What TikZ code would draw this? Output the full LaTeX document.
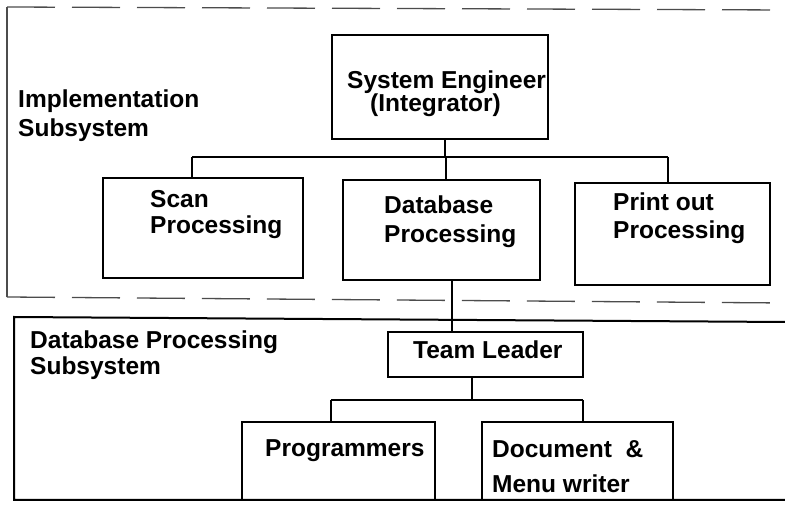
\documentclass[tikz,border=0pt]{standalone}
\usepackage{fontspec}
\setmainfont{Liberation Sans}
\begin{document}
\begin{tikzpicture}[x=1pt,y=-1pt,
  box/.style={draw=black,line width=2.4pt,inner sep=0pt},
  link/.style={draw=black,line width=1.3pt},
  lbl/.style={anchor=base west,inner sep=0pt,font=\fontsize{24.5}{29}\selectfont\bfseries},
  dashframe/.style={draw=black!70,line width=1.3pt,dash pattern=on 48pt off 17pt},
  solidframe/.style={draw=black,line width=2pt}]
\useasboundingbox (0,0) rectangle (785,510);
\fill[white] (0,0) rectangle (785,510);

% Implementation subsystem frame (open to the right)
\draw[dashframe] (7,7) -- (785,10);
\draw[draw=black!70,line width=1.2pt] (7,7) -- (7,297);
\draw[dashframe] (7,297) -- (785,303);

% Database processing subsystem frame (open to the right)
\draw[solidframe] (785,322) -- (14,317) -- (14,500) -- (785,500);

% Boxes
\node[box,minimum width=216pt,minimum height=104pt] (se)    at (440,87)    {};
\node[box,minimum width=200pt,minimum height=100pt] (scan)  at (203,228)   {};
\node[box,minimum width=197pt,minimum height=100pt] (db)    at (441.5,230) {};
\node[box,minimum width=195pt,minimum height=102pt] (print) at (672.5,234) {};
\node[box,minimum width=195pt,minimum height=45pt]  (tl)    at (485.5,354.5) {};
\node[box,minimum width=193pt,minimum height=78pt]  (prog)  at (338.5,461) {};
\node[box,minimum width=191pt,minimum height=78pt]  (doc)   at (577.5,461) {};

% Labels
\node[lbl] (implA) at (18,108) {Implementation};
\node[lbl] (implB) at (18,137) {Subsystem};
\node[lbl] (seA) at (347,89) {System Engineer};
\node[lbl] (seB) at (370,112) {(Integrator)};
\node[lbl] (scanA) at (150,208) {Scan};
\node[lbl] (scanB) at (150,234) {Processing};
\node[lbl] (dbA) at (384,214) {Database};
\node[lbl] (dbB) at (384,243) {Processing};
\node[lbl] (prA) at (613,211) {Print out};
\node[lbl] (prB) at (613,239) {Processing};
\node[lbl] (dpsA) at (30,349) {Database Processing};
\node[lbl] (dpsB) at (30,375) {Subsystem};
\node[lbl] (tlA) at (413,359) {Team Leader};
\node[lbl] (progA) at (265,457) {Programmers};
\node[lbl] (docA) at (492,458) {Document\ \ \&};
\node[lbl] (docB) at (492,493) {Menu writer};

% Connectors: system engineer to the three processing units
\coordinate (bus) at (445,157);
\coordinate (dScan) at (192,157);
\coordinate (dDb) at (446,157);
\coordinate (dPrint) at (668,157);
\draw[link] (bus |- se.south) -- (bus);
\draw[link] (dScan) -- (dPrint);
\draw[link] (dScan) -- (dScan |- scan.north);
\draw[link] (dDb) -- (dDb |- db.north);
\draw[link] (dPrint) -- (dPrint |- print.north);

% Database processing to team leader
\coordinate (dTl) at (452,300);
\draw[link] (dTl |- db.south) -- (dTl |- tl.north);

% Team leader to its members
\coordinate (tBus) at (472,400);
\coordinate (dProg) at (331,400);
\coordinate (dDoc) at (583,400);
\draw[link] (tBus |- tl.south) -- (tBus);
\draw[link] (dProg) -- (dDoc);
\draw[link] (dProg) -- (dProg |- prog.north);
\draw[link] (dDoc) -- (dDoc |- doc.north);
\end{tikzpicture}
\end{document}
